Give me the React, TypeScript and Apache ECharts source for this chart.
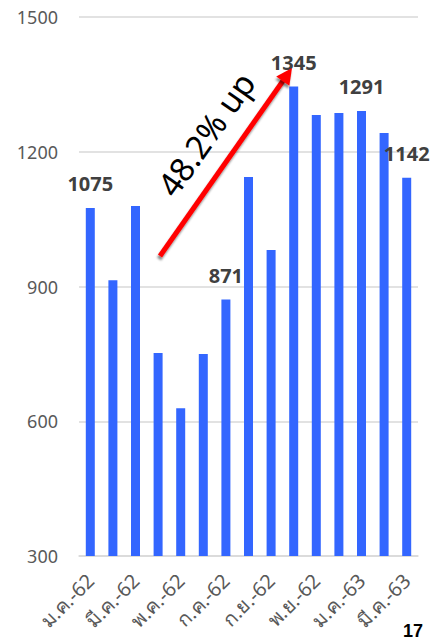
import React, { useEffect, useRef } from "react";
import * as echarts from "echarts";

const categories = ["ม.ค.-62", "ก.พ.-62", "มี.ค.-62", "เม.ย.-62", "พ.ค.-62", "มิ.ย.-62", "ก.ค.-62", "ส.ค.-62", "ก.ย.-62", "ต.ค.-62", "พ.ย.-62", "ธ.ค.-62", "ม.ค.-63", "ก.พ.-63", "มี.ค.-63"];
const values = [1075, 914, 1079, 752, 629, 750, 871, 1144, 981, 1345, 1282, 1286, 1291, 1242, 1142];
const labeledIdx = [0, 6, 9, 12, 14];
const yTicks = [300, 600, 900, 1200, 1500];
const annotationText = "48.2% up";
const pageNumber = "17";

export default function App() {
  const ref = useRef<HTMLDivElement>(null);
  useEffect(() => {
    document.body.style.margin = "0";
    const chart = echarts.init(ref.current!, null, { renderer: "svg" });
    const tip = [292, 68];
    const start = [160, 256];
    const dx = tip[0] - start[0];
    const dy = tip[1] - start[1];
    const len = Math.sqrt(dx * dx + dy * dy);
    const ux = dx / len, uy = dy / len;
    const px = -uy, py = ux;
    const hl = 16, hw = 8;
    const bx = tip[0] - ux * hl, by = tip[1] - uy * hl;
    const angle = Math.atan2(-dy, dx);
    const shadow = { shadowBlur: 2, shadowOffsetX: -1, shadowOffsetY: 3, shadowColor: "rgba(0,0,0,0.45)" };
    chart.setOption({
      animation: false,
      grid: { left: 79, right: 14, top: 17, bottom: 86, containLabel: false, outerBoundsMode: "none" },
      xAxis: {
        type: "category",
        data: categories,
        axisLine: { lineStyle: { color: "#d9d9d9", width: 1.5 } },
        axisTick: { show: false },
        axisLabel: { interval: 1, rotate: 45, margin: 21, fontSize: 20, color: "#595959", fontFamily: "Noto Sans, sans-serif" },
      },
      yAxis: {
        type: "value",
        min: yTicks[0],
        max: yTicks[yTicks.length - 1],
        interval: 300,
        axisLine: { show: false },
        axisTick: { show: false },
        splitLine: { lineStyle: { color: "#d9d9d9", width: 1.5 } },
        axisLabel: { margin: 21, fontSize: 18, color: "#595959", fontFamily: "Noto Sans, sans-serif", formatter: (v: number) => String(v) },
      },
      series: [
        {
          type: "bar",
          barWidth: 9,
          itemStyle: { color: "#3366FF" },
          data: values.map((v, i) => ({
            value: v,
            label: {
              show: labeledIdx.includes(i),
              position: "top",
              distance: 14,
              fontSize: 20,
              fontWeight: "bold",
              color: "#404040",
              fontFamily: "Noto Sans, sans-serif",
            },
          })),
        },
      ],
      graphic: [
        {
          type: "line",
          shape: { x1: start[0], y1: start[1], x2: bx + ux * 2, y2: by + uy * 2 },
          style: { stroke: "#ff0000", lineWidth: 5, ...shadow },
          z: 100,
        },
        {
          type: "polygon",
          shape: { points: [[tip[0], tip[1]], [bx + px * hw, by + py * hw], [bx - px * hw, by - py * hw]] },
          style: { fill: "#ff0000", ...shadow },
          z: 100,
        },
        {
          type: "text",
          x: 206,
          y: 134,
          rotation: angle,
          style: {
            text: annotationText,
            fontSize: 33,
            fill: "#000000",
            fontFamily: "Noto Sans, sans-serif",
            align: "center",
            verticalAlign: "middle",
          },
          z: 100,
        },
        {
          type: "text",
          x: 403,
          y: 622,
          style: { text: pageNumber, fontSize: 18, fontWeight: "bold", fill: "#000000", fontFamily: "Liberation Sans, sans-serif" },
          z: 100,
        },
      ],
    });
    return () => chart.dispose();
  }, []);
  return <div ref={ref} style={{ width: 432, height: 642 }} />;
}
